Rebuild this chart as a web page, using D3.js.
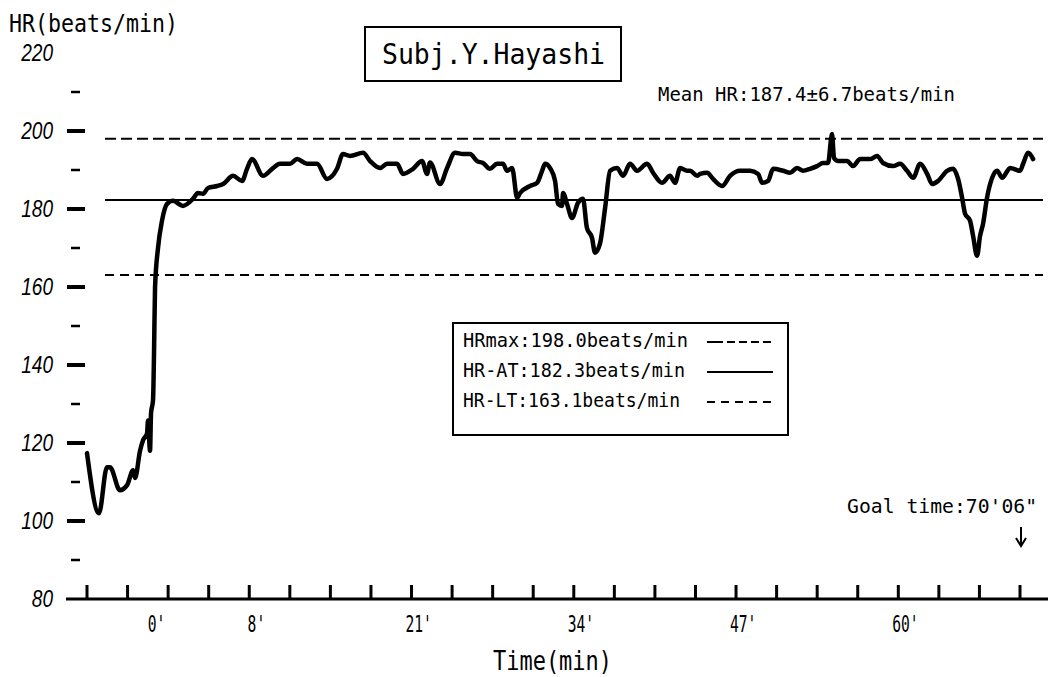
<!DOCTYPE html>
<html><head><meta charset="utf-8">
<script src="https://cdn.jsdelivr.net/npm/d3@7"></script>
<style>body{margin:0;background:#fff}svg{display:block}</style>
</head><body><svg id="c" width="1051" height="677"></svg>
<script>
// ---- data ----
const times = [-5.25,-4.29,-3.65,-3.41,-2.61,-2.04,-1.56,-1.40,-1.00,-0.76,-0.44,-0.36,-0.20,-0.12,0.04,0.12,0.20,0.44,0.76,1.16,1.64,2.44,3.24,3.64,4.04,4.45,5.17,5.65,6.45,7.17,7.57,7.97,8.85,9.65,10.21,11.02,11.58,12.38,13.18,13.98,14.78,15.26,15.82,16.87,17.43,18.23,18.79,19.59,20.07,20.87,21.59,21.99,22.23,23.04,23.60,24.24,24.88,25.44,26.00,26.48,27.04,27.60,28.08,28.40,28.81,29.21,29.45,30.25,30.81,31.21,31.45,31.85,32.25,32.49,32.81,32.89,33.21,33.61,34.09,34.49,34.80,35.21,35.45,35.85,36.26,36.66,37.22,37.70,38.26,38.82,39.62,40.10,40.82,41.46,41.86,42.27,42.83,43.07,43.63,43.87,44.43,44.91,45.63,46.27,47.07,47.88,48.52,48.84,49.32,49.72,50.52,51.08,51.64,52.12,52.68,53.24,53.72,54.12,54.44,54.60,54.93,55.65,56.13,56.69,57.49,58.05,58.53,59.33,59.89,60.45,60.94,61.50,62.06,62.46,62.94,63.66,64.14,64.54,64.86,65.10,65.50,65.74,66.06,66.30,66.54,66.86,67.27,67.67,68.07,68.71,69.51,69.75,70.15,70.55];
const hr = [117.4,102.0,113.8,113.8,107.9,109.2,113.0,111.0,118.0,120.7,122.5,125.8,118.0,127.6,131.0,143.0,159.8,170.0,177.0,181.3,182.1,180.8,182.6,184.1,183.9,185.4,185.9,186.4,188.5,187.2,190.3,192.8,188.5,190.5,191.6,191.6,192.8,191.6,191.6,187.7,190.3,194.1,193.6,194.4,192.3,190.5,191.6,191.6,189.0,190.3,192.3,189.0,191.9,186.4,190.5,194.4,194.1,194.1,192.3,191.8,190.3,191.6,191.6,189.8,190.5,182.9,184.1,185.9,186.7,189.8,191.6,190.5,187.2,181.3,180.8,184.1,181.3,177.7,181.6,182.6,175.2,172.6,168.8,171.1,180.3,189.8,190.5,188.5,191.6,189.8,191.6,189.3,186.7,188.5,186.7,190.5,189.8,189.8,188.5,189.0,189.3,187.7,185.9,188.5,189.8,189.8,189.0,186.7,187.2,190.3,189.8,189.3,190.5,189.8,190.3,191.0,191.8,191.8,199.2,193.1,192.3,192.3,191.0,192.8,192.8,193.6,191.8,191.0,191.6,189.8,188.0,191.6,189.0,186.4,187.2,189.8,190.3,187.7,182.9,178.8,177.0,173.1,168.0,173.1,176.2,182.9,188.0,189.8,188.0,190.5,189.8,191.6,194.4,192.8];

const refLabels = ["HRmax:198.0beats/min","HR-AT:182.3beats/min","HR-LT:163.1beats/min"];
const refValues = [198.0, 182.3, 163.1];
const yLabelValues = [80,100,120,140,160,180,200,220];
const yMajorTicks = [100,120,140,160,180,200];
const yMinorTicks = [90,110,130,150,170,190,210];
const xLabelMinutes = [0,8,21,34,47,60];
const xLabels = ["0'","8'","21'","34'","47'","60'"];
const xTickMinutes = d3.range(24).map(i => -5.25 + 3.25*i);
const title = "Subj.Y.Hayashi";
const meanText = "Mean HR:187.4±6.7beats/min";
const goalText = "Goal time:70'06\"";
const goalMinute = 69.5;

// ---- drawing ----
const svg = d3.select("#c");
const x = d3.scaleLinear().domain([-5.25, 69.5]).range([87, 1020]);
const y = d3.scaleLinear().domain([80, 220]).range([599, 53]);
const mono = "'DejaVu Sans Mono', 'Liberation Mono', monospace";

function txt(s, px, py, size, len, anchor) {
  const t = svg.append("text").attr("x", px).attr("y", py)
    .attr("font-family", mono).attr("font-size", size).attr("fill", "#000")
    .attr("text-anchor", anchor || "start").text(s);
  if (len) t.attr("textLength", len).attr("lengthAdjust", "spacingAndGlyphs");
  return t;
}

// axis title
txt("HR(beats/min)", 9, 32, 25, 169);

// y tick labels
svg.append("g").selectAll("text").data(yLabelValues).join("text")
  .attr("x", 53).attr("y", d => y(d)).attr("dy", "0.36em")
  .attr("text-anchor", "end").attr("font-family", "'Liberation Sans', Arial, sans-serif")
  .attr("font-style", "italic").attr("font-size", 23)
  .attr("textLength", d => String(d).length * 10.6).attr("lengthAdjust", "spacingAndGlyphs")
  .text(d => d);

// y ticks
svg.append("g").selectAll("line").data(yMajorTicks).join("line")
  .attr("x1", 67).attr("x2", 85).attr("y1", d => y(d)).attr("y2", d => y(d))
  .attr("stroke", "#000").attr("stroke-width", 4);
svg.append("g").selectAll("line").data(yMinorTicks).join("line")
  .attr("x1", 71).attr("x2", 80).attr("y1", d => y(d)).attr("y2", d => y(d))
  .attr("stroke", "#000").attr("stroke-width", 2.5);

// x axis baseline and ticks
svg.append("line").attr("x1", 66).attr("x2", 1048).attr("y1", y(80)).attr("y2", y(80))
  .attr("stroke", "#000").attr("stroke-width", 3);
svg.append("g").selectAll("line").data(xTickMinutes).join("line")
  .attr("x1", d => x(d)).attr("x2", d => x(d)).attr("y1", y(80)).attr("y2", y(80) - 14)
  .attr("stroke", "#000").attr("stroke-width", 3);

// x labels
svg.append("g").selectAll("text").data(xLabelMinutes).join("text")
  .attr("x", d => x(d) + 4).attr("y", 632).attr("text-anchor", "middle")
  .attr("font-family", mono).attr("font-size", 23)
  .attr("textLength", (d, i) => xLabels[i].length * 8.8)
  .attr("lengthAdjust", "spacingAndGlyphs")
  .text((d, i) => xLabels[i]);
txt("Time(min)", 493, 670, 26, 119);

// reference lines
const dashes = ["11,5", null, "9,6"];
svg.append("g").selectAll("line").data(refValues).join("line")
  .attr("x1", 105).attr("x2", 1043).attr("y1", d => y(d)).attr("y2", d => y(d))
  .attr("stroke", "#000").attr("stroke-width", 2)
  .attr("stroke-dasharray", (d, i) => dashes[i]);

// HR line
const pts = times.map((t, i) => [t, hr[i]]);
svg.append("path").datum(pts)
  .attr("d", d3.line().x(d => x(d[0])).y(d => y(d[1])).curve(d3.curveMonotoneX))
  .attr("fill", "none").attr("stroke", "#000").attr("stroke-width", 4.5)
  .attr("stroke-linejoin", "round").attr("stroke-linecap", "round");

// title box
svg.append("rect").attr("x", 365).attr("y", 27).attr("width", 256).attr("height", 54)
  .attr("fill", "#fff").attr("stroke", "#000").attr("stroke-width", 2);
txt(title, 382, 64, 28, 223);

// mean text
txt(meanText, 658, 101, 20, 297);

// legend
svg.append("rect").attr("x", 453).attr("y", 323).attr("width", 335).attr("height", 112)
  .attr("fill", "#fff").attr("stroke", "#000").attr("stroke-width", 2);
const legLens = [225, 222, 217];
const legDash = ["16,4,8,4,8,4,8,4,8", null, "8,6"];
refLabels.forEach((s, i) => {
  txt(s, 463, 347 + 30*i, 19, legLens[i]);
  svg.append("line").attr("x1", 707).attr("x2", 773)
    .attr("y1", 342 + 30*i).attr("y2", 342 + 30*i)
    .attr("stroke", "#000").attr("stroke-width", 1.8)
    .attr("stroke-dasharray", legDash[i]);
});

// goal annotation
txt(goalText, 1037, 513, 20, 190, "end");
const ax = x(goalMinute) + 1;
svg.append("path")
  .attr("d", `M${ax},527 L${ax},546 M${ax-5},538 L${ax},546 L${ax+5},538`)
  .attr("fill", "none").attr("stroke", "#000").attr("stroke-width", 2);
</script></body></html>
